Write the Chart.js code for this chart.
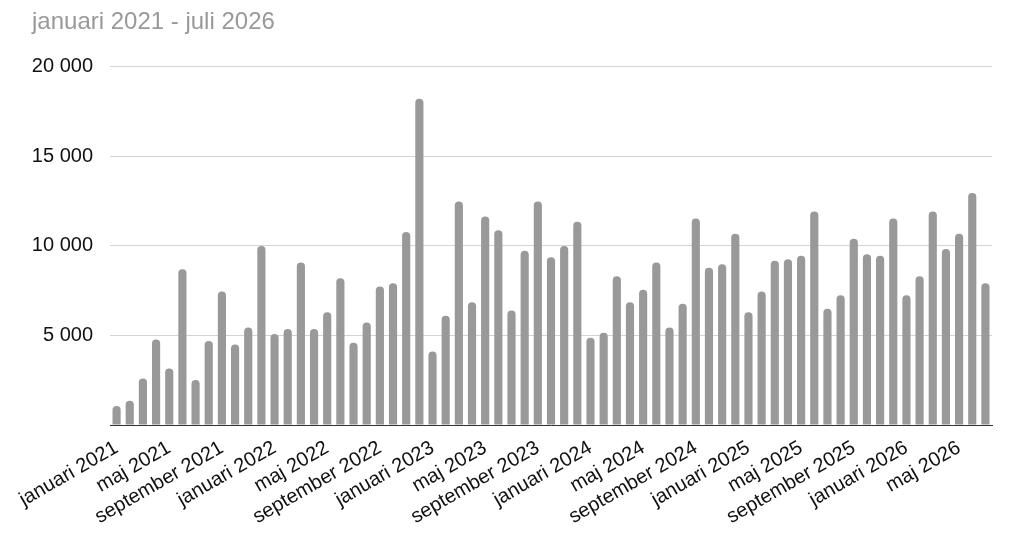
<!DOCTYPE html>
<html>
<head>
<meta charset="utf-8">
<script src="https://cdn.jsdelivr.net/npm/chart.js@4.4.1/dist/chart.umd.min.js"></script>
<style>
  html, body { margin: 0; padding: 0; background: #fff; }
  #wrap { width: 1024px; height: 554px; }
</style>
</head>
<body>
<div id="wrap"><canvas id="grafik"></canvas></div>
<script>
// Månader och år på x-axeln
var manader = ['januari', 'februari', 'mars', 'april', 'maj', 'juni', 'juli',
               'augusti', 'september', 'oktober', 'november', 'december'];
var ar = [2021, 2022, 2023, 2024, 2025, 2026];
var sistaManad = 7; // juli 2026

// Värden per månad
var varden2021 = [1060, 1360, 2600, 4780, 3160, 8690, 2510, 4690, 7460, 4500, 5450, 10000];
var varden2022 = [5080, 5360, 9080, 5360, 6300, 8200, 4590, 5730, 7740, 7920, 10770, 18210];
var varden2023 = [4110, 6100, 12480, 6860, 11640, 10880, 6400, 9730, 12480, 9360, 10000, 11350];
var varden2024 = [4870, 5150, 8310, 6860, 7550, 9080, 5450, 6770, 11530, 8780, 8980, 10680];
var varden2025 = [6300, 7460, 9170, 9260, 9450, 11920, 6490, 7250, 10400, 9540, 9450, 11530];
var varden2026 = [7250, 8310, 11920, 9820, 10680, 12960, 7920];

// Y-axelns steg
var yMax = 20000;
var ySteg = 5000;

var kategorier = [];
ar.forEach(function(a) {
    var antal = (a === 2026) ? sistaManad : 12;
    for (var i = 0; i < antal; i++) {
        kategorier.push(manader[i] + ' ' + a);
    }
});
var varden = [].concat(varden2021, varden2022, varden2023, varden2024, varden2025, varden2026);

function formatera(v) {
    return String(v).replace(/\B(?=(\d{3})+(?!\d))/g, ' ');
}

var typsnitt = "'Liberation Sans', Arial, sans-serif";

var ctx = document.getElementById('grafik').getContext('2d');
var minGraf = new Chart(ctx, {
    type: 'bar',
    data: {
        labels: kategorier,
        datasets: [{
            data: varden,
            backgroundColor: '#999999',
            borderRadius: { topLeft: 4, topRight: 4 },
            borderSkipped: 'bottom',
            barPercentage: 0.62,
            categoryPercentage: 1
        }]
    },
    options: {
        responsive: true,
        maintainAspectRatio: false,
        animation: false,
        layout: { padding: { left: 32, right: 32, top: 0, bottom: 0 } },
        plugins: {
            legend: { display: false },
            tooltip: { enabled: false },
            title: {
                display: true,
                text: 'januari 2021 - juli 2026',
                align: 'start',
                color: '#999999',
                font: { family: typsnitt, size: 24, weight: 'normal' },
                padding: { top: 8, bottom: 30 }
            }
        },
        scales: {
            x: {
                grid: { display: false, drawTicks: false },
                border: { display: true, color: '#333333', width: 1 },
                ticks: {
                    autoSkip: false,
                    maxRotation: 30,
                    minRotation: 30,
                    padding: 11,
                    color: '#111111',
                    font: { family: typsnitt, size: 20 },
                    callback: function(value, index) {
                        return index % 4 === 0 ? kategorier[index] : '';
                    }
                },
                afterFit: function(scale) { scale.height = 129; }
            },
            y: {
                min: 0,
                max: yMax,
                grid: { color: '#d3d3d3', drawTicks: false, lineWidth: 1 },
                border: { display: false },
                ticks: {
                    stepSize: ySteg,
                    padding: 17,
                    color: '#111111',
                    font: { family: typsnitt, size: 20 },
                    callback: function(value) {
                        return value === 0 ? '' : formatera(value);
                    }
                },
                afterFit: function(scale) { scale.width = 78; }
            }
        }
    }
});
</script>
</body>
</html>
